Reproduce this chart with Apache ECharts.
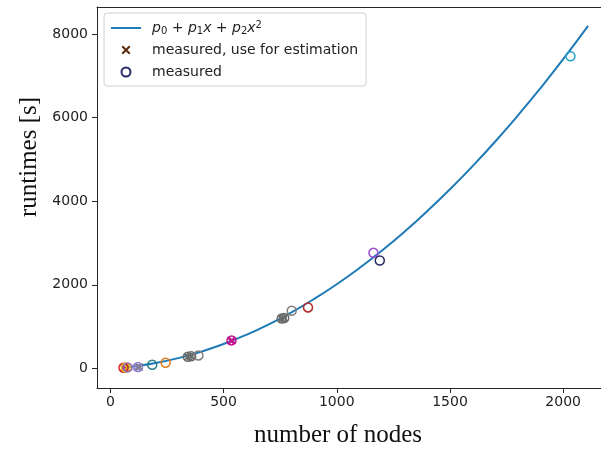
<!DOCTYPE html>
<html>
<head>
<meta charset="utf-8">
<script src="https://cdn.jsdelivr.net/npm/echarts@6/dist/echarts.min.js"></script>
<style>html,body{margin:0;padding:0;background:#fff}#c{width:601px;height:450px}</style>
</head>
<body>
<div id="c"></div>
<script>
// fitted curve p0 + p1 x + p2 x^2
const fitNodes   = [60, 100, 200, 300, 400, 500, 600, 700, 800, 900, 1000, 1100, 1200, 1300, 1400, 1500, 1600, 1700, 1800, 1900, 2000, 2110];
const fitRuntime = [20, 45, 129, 247, 399, 584, 803, 1055, 1341, 1661, 2014, 2401, 2821, 3275, 3763, 4284, 4839, 5427, 6049, 6705, 7394, 8190];

// measured, used for estimation (x markers)
const estNodes   = [58, 66, 74, 118, 128, 342, 357, 533, 538, 757, 768];
const estRuntime = [18, 20, 22, 30, 32, 275, 290, 655, 665, 1190, 1205];
const estColors  = ['#d62728', '#c2168f', '#bcbd22', '#8c7fc9', '#7f7f7f', '#6b6b6b', '#6b6b6b', '#c2168f', '#c2168f', '#6b6b6b', '#6b6b6b'];

// measured (circles)
const measNodes   = [58, 68, 76, 122, 185, 244, 342, 357, 389, 535, 757, 768, 801, 873, 1162, 1190, 2032];
const measRuntime = [18, 22, 25, 32, 88, 136, 278, 292, 311, 670, 1192, 1208, 1379, 1458, 2765, 2581, 7465];
const measColors  = ['#d62728', '#e8c21a', '#9467bd', '#8c7fc9', '#2a7f86', '#e07b20', '#6b6b6b', '#6b6b6b', '#7f7f7f', '#c2168f', '#6b6b6b', '#6b6b6b', '#7f7f7f', '#b22a2a', '#9a4fd0', '#282a5e', '#21a4c9'];

const xTicks = [0, 500, 1000, 1500, 2000];
const yTicks = [0, 2000, 4000, 6000, 8000];

const seriesNames = ['fit', 'measured, use for estimation', 'measured'];
const xTitle = 'number of nodes';
const yTitle = 'runtimes [s]';

const X_PATH = 'path://M0,1.6L1.6,0L5,3.4L8.4,0L10,1.6L6.6,5L10,8.4L8.4,10L5,6.6L1.6,10L0,8.4L3.4,5Z';
const tickFont = { fontFamily: 'DejaVu Sans', fontSize: 14, color: '#222' };
const axisLineStyle = { color: '#262626', width: 1 };
const plain = v => String(v);

const chart = echarts.init(document.getElementById('c'), null, { renderer: 'canvas' });
chart.setOption({
  animation: false,
  backgroundColor: '#fff',
  grid: { left: 97, top: 7, right: 0, bottom: 62, containLabel: false, outerBoundsMode: 'none' },
  graphic: [
    { type: 'text', x: 29, y: 157, rotation: Math.PI / 2,
      style: { text: yTitle, font: '25px "Liberation Serif"', fill: '#111', align: 'center', verticalAlign: 'middle' } },
    { type: 'text', x: 338, y: 435,
      style: { text: xTitle, font: '25px "Liberation Serif"', fill: '#111', align: 'center', verticalAlign: 'middle' } }
  ],
  legend: {
    orient: 'vertical',
    left: 104, top: 13,
    padding: [7, 8, 6, 6],
    itemGap: 6,
    itemWidth: 30, itemHeight: 9,
    borderColor: '#d0d0d0', borderWidth: 1, borderRadius: 3,
    backgroundColor: 'rgba(255,255,255,0.8)',
    data: [
      { name: seriesNames[0], itemStyle: { opacity: 0 } },
      { name: seriesNames[1] },
      { name: seriesNames[2] }
    ],
    formatter: function (n) {
      if (n === 'fit') {
        return '{g|}{i|p}{s|0}{n| + }{i|p}{s|1}{i|x}{n| + }{i|p}{s|2}{i|x}{u|2}';
      }
      return '{g|}{n|' + n + '}';
    },
    textStyle: {
      fontFamily: 'DejaVu Sans', fontSize: 14, color: '#222', lineHeight: 16,
      rich: {
        g: { width: 6, lineHeight: 16 },
        n: { fontFamily: 'DejaVu Sans', fontSize: 14, color: '#222', lineHeight: 16 },
        i: { fontFamily: 'DejaVu Sans', fontStyle: 'italic', fontSize: 14, color: '#222', lineHeight: 16 },
        s: { fontFamily: 'DejaVu Sans', fontSize: 10, color: '#222', lineHeight: 16, verticalAlign: 'bottom' },
        u: { fontFamily: 'DejaVu Sans', fontSize: 10, color: '#222', lineHeight: 16, verticalAlign: 'top' }
      }
    }
  },
  xAxis: [
    {
      type: 'value', min: -59, max: 2167,
      axisLine: { show: true, onZero: false, lineStyle: axisLineStyle },
      axisTick: { show: true, length: 5, customValues: xTicks, lineStyle: axisLineStyle },
      axisLabel: Object.assign({ customValues: xTicks, margin: 7, formatter: plain }, tickFont),
      splitLine: { show: false }
    },
    {
      type: 'value', min: -59, max: 2167, position: 'top',
      axisLine: { show: true, onZero: false, lineStyle: axisLineStyle },
      axisTick: { show: false }, axisLabel: { show: false }, splitLine: { show: false }
    }
  ],
  yAxis: {
    type: 'value', min: -468, max: 8643,
    axisLine: { show: true, onZero: false, lineStyle: axisLineStyle },
    axisTick: { show: true, length: 5, customValues: yTicks, lineStyle: axisLineStyle },
    axisLabel: Object.assign({ customValues: yTicks, margin: 9, formatter: plain }, tickFont),
    splitLine: { show: false }
  },
  series: [
    {
      name: seriesNames[0], type: 'line', smooth: true, showSymbol: false, symbol: 'none',
      data: fitNodes.map((x, i) => [x, fitRuntime[i]]),
      lineStyle: { color: '#1f7ab8', width: 2 },
      itemStyle: { color: '#1f7ab8' },
      z: 2
    },
    {
      name: seriesNames[1], type: 'scatter', symbol: X_PATH, symbolSize: 8,
      itemStyle: { color: '#5a2d0c', opacity: 1 },
      data: estNodes.map((x, i) => ({ value: [x, estRuntime[i]], itemStyle: { color: estColors[i] } })),
      z: 3
    },
    {
      name: seriesNames[2], type: 'scatter', symbol: 'circle', symbolSize: 9,
      itemStyle: { color: 'rgba(255,255,255,0)', borderColor: '#282a6e', borderWidth: 1.5, opacity: 1 },
      data: measNodes.map((x, i) => ({ value: [x, measRuntime[i]], itemStyle: { borderColor: measColors[i] } })),
      z: 4
    }
  ]
});
</script>
</body>
</html>
